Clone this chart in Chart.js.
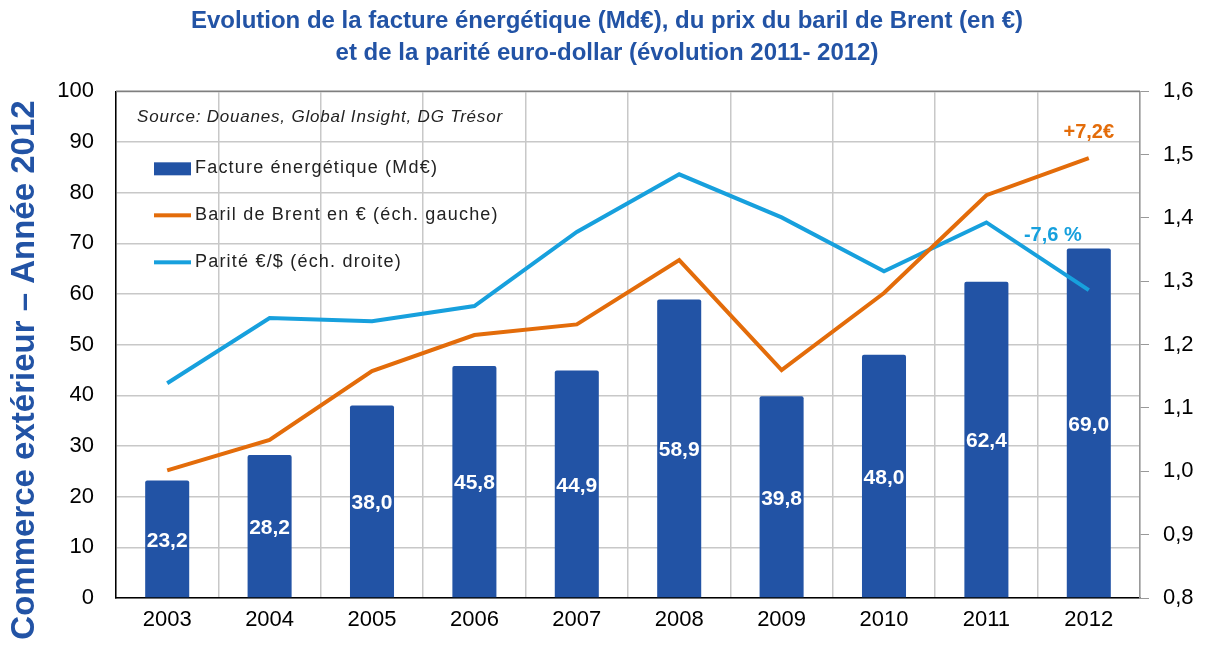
<!DOCTYPE html>
<html>
<head>
<meta charset="utf-8">
<script src="https://cdn.jsdelivr.net/npm/chart.js@4"></script>
<style>
  html, body { margin: 0; padding: 0; background: #fff; }
  #wrap { width: 1214px; height: 652px; }
</style>
</head>
<body>
<div id="wrap"><canvas id="chart"></canvas></div>
<script>
const years = ["2003", "2004", "2005", "2006", "2007", "2008", "2009", "2010", "2011", "2012"];
const facture = [23.2, 28.2, 38.0, 45.8, 44.9, 58.9, 39.8, 48.0, 62.4, 69.0];
const brent = [25.2, 31.2, 44.8, 51.9, 54.0, 66.7, 45.0, 60.2, 79.5, 86.8];
const parite = [1.139, 1.242, 1.237, 1.261, 1.378, 1.469, 1.401, 1.316, 1.393, 1.286];
const leftTicks = [0, 10, 20, 30, 40, 50, 60, 70, 80, 90, 100];
const rightTicks = [0.8, 0.9, 1.0, 1.1, 1.2, 1.3, 1.4, 1.5, 1.6];

const titleLines = [
    "Evolution de la facture énergétique (Md€), du prix du baril de Brent (en €)",
    "et de la parité euro-dollar (évolution 2011- 2012)"
];
const axisTitle = "Commerce extérieur – Année 2012";
const sourceText = "Source: Douanes, Global Insight, DG Trésor";
const brentNote = "+7,2€";
const pariteNote = "-7,6 %";

const FONT = "'Liberation Sans', Arial, sans-serif";
const BLUE_DARK = "#2253a5";
const ORANGE = "#e36c0a";
const CYAN = "#17a0dd";
const GRID = "#c8c8c8";

const fr = (v, d) => v.toFixed(d).replace(".", ",");

// légende, source, valeurs et annotations dessinées par-dessus le graphique
const overlay = {
    id: "overlay",
    afterDatasetsDraw(chart) {
        const { ctx, chartArea, scales } = chart;
        ctx.save();

        // bordure haute du cadre
        ctx.strokeStyle = "#7f7f7f";
        ctx.lineWidth = 1.5;
        ctx.beginPath();
        ctx.moveTo(chartArea.left, chartArea.top);
        ctx.lineTo(chartArea.right, chartArea.top);
        ctx.stroke();

        // valeurs dans les barres
        const meta = chart.getDatasetMeta(2);
        ctx.fillStyle = "#fff";
        ctx.font = "bold 21px " + FONT;
        ctx.textAlign = "center";
        ctx.textBaseline = "middle";
        meta.data.forEach((bar, i) => {
            ctx.fillText(fr(facture[i], 1), bar.x, (bar.y + bar.base) / 2 + 2);
        });

        // source
        const lx = chartArea.left;
        const ty = chartArea.top;
        ctx.fillStyle = "#222";
        ctx.textAlign = "left";
        ctx.font = "italic 17px " + FONT;
        ctx.letterSpacing = "0.8px";
        ctx.fillText(sourceText, lx + 21, ty + 26);

        // légende
        const items = [
            { text: "Facture énergétique (Md€)", color: BLUE_DARK, box: true },
            { text: "Baril de Brent en € (éch. gauche)", color: ORANGE },
            { text: "Parité €/$ (éch. droite)", color: CYAN }
        ];
        ctx.font = "18px " + FONT;
        ctx.letterSpacing = "1.2px";
        items.forEach((it, i) => {
            const y = ty + 77 + i * 47;
            ctx.fillStyle = it.color;
            if (it.box) {
                ctx.fillRect(lx + 38, y - 6, 37, 13);
            } else {
                ctx.fillRect(lx + 38, y - 2, 37, 4);
            }
            ctx.fillStyle = "#222";
            ctx.fillText(it.text, lx + 79, y);
        });
        ctx.letterSpacing = "0px";

        // annotations 2011-2012
        const x12 = scales.x.getPixelForValue(9);
        ctx.font = "bold 20px " + FONT;
        ctx.textAlign = "center";
        ctx.fillStyle = ORANGE;
        ctx.fillText(brentNote, x12, scales.y.getPixelForValue(brent[9]) - 26);
        ctx.fillStyle = CYAN;
        ctx.fillText(pariteNote, x12 - 36, scales.y1.getPixelForValue(parite[9]) - 55);

        ctx.restore();
    },
    afterDraw(chart) {
        // titre vertical de gauche
        const { ctx } = chart;
        ctx.save();
        ctx.translate(25, 370);
        ctx.rotate(-Math.PI / 2);
        ctx.fillStyle = BLUE_DARK;
        ctx.font = "bold 33px " + FONT;
        ctx.textAlign = "center";
        ctx.textBaseline = "middle";
        ctx.fillText(axisTitle, 0, 0);
        ctx.restore();
    }
};

new Chart(document.getElementById("chart"), {
    type: "bar",
    data: {
        labels: years,
        datasets: [
            {
                type: "line",
                label: "Baril de Brent en € (éch. gauche)",
                data: brent,
                borderColor: ORANGE,
                borderWidth: 4,
                pointRadius: 0,
                tension: 0,
                yAxisID: "y",
                order: 1
            },
            {
                type: "line",
                label: "Parité €/$ (éch. droite)",
                data: parite,
                borderColor: CYAN,
                borderWidth: 4,
                pointRadius: 0,
                tension: 0,
                yAxisID: "y1",
                order: 2
            },
            {
                label: "Facture énergétique (Md€)",
                data: facture,
                backgroundColor: BLUE_DARK,
                borderRadius: 2,
                borderSkipped: "bottom",
                categoryPercentage: 1,
                barPercentage: 0.43,
                yAxisID: "y",
                order: 3
            }
        ]
    },
    options: {
        responsive: true,
        maintainAspectRatio: false,
        animation: false,
        layout: { padding: 0 },
        plugins: {
            legend: { display: false },
            tooltip: { enabled: false },
            title: {
                display: true,
                text: titleLines,
                color: BLUE_DARK,
                font: { family: FONT, size: 24, weight: "bold", lineHeight: 1.34 },
                padding: { top: 5, bottom: 22 }
            }
        },
        scales: {
            x: {
                grid: { color: GRID, lineWidth: 1.5, offset: true, drawTicks: false },
                border: { color: "#000", width: 1.5 },
                ticks: { color: "#000", font: { family: FONT, size: 22 }, padding: 9 },
                afterFit: s => { s.height = 54; }
            },
            y: {
                position: "left",
                min: 0,
                max: 100,
                afterBuildTicks: s => { s.ticks = leftTicks.map(v => ({ value: v })); },
                grid: { color: GRID, lineWidth: 1.5, drawTicks: false },
                border: { color: "#000", width: 1.5 },
                ticks: { color: "#000", font: { family: FONT, size: 22 }, padding: 22 },
                afterFit: s => { s.width = 116; }
            },
            y1: {
                position: "right",
                min: 0.8,
                max: 1.6,
                afterBuildTicks: s => { s.ticks = rightTicks.map(v => ({ value: v })); },
                grid: { drawOnChartArea: false, color: "#999", tickLength: 9, lineWidth: 1 },
                border: { color: "#999", width: 1.5 },
                ticks: {
                    color: "#000",
                    font: { family: FONT, size: 22 },
                    padding: 14,
                    callback: v => fr(v, 1)
                },
                afterFit: s => { s.width = 74; }
            }
        }
    },
    plugins: [overlay]
});
</script>
</body>
</html>
